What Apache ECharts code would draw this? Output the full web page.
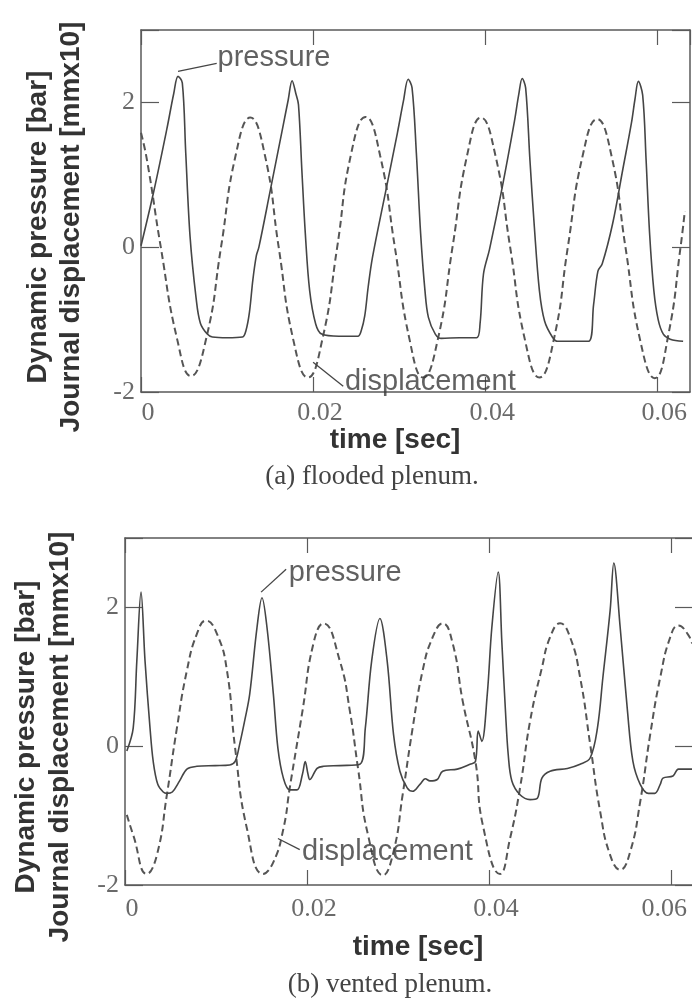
<!DOCTYPE html>
<html><head><meta charset="utf-8">
<script src="https://cdn.jsdelivr.net/npm/echarts@6/dist/echarts.min.js"></script>
<style>html,body{margin:0;padding:0;background:#fff}#c{width:692px;height:999px}</style>
</head><body><div id="c"></div>
<script>
// ---- tick labels ----
const xTickValues = [0, 0.02, 0.04, 0.06];
const xTickLabels = ['0', '0.02', '0.04', '0.06'];
const yTickValues = [-2, 0, 2];
const yTickLabels = ['-2', '0', '2'];

// ---- (a) flooded plenum ----
const topPressT = [0, 0.0015, 0.0030, 0.0038, 0.0043, 0.0048, 0.0052, 0.0057, 0.0064, 0.0069, 0.0077, 0.0083, 0.0100, 0.0118, 0.0122, 0.0126, 0.0130, 0.0134, 0.0137, 0.0150, 0.0165, 0.0171, 0.01756, 0.0180, 0.0183, 0.0187, 0.0191, 0.0196, 0.0203, 0.0210, 0.0230, 0.0252, 0.0256, 0.0260, 0.0264, 0.0269, 0.0285, 0.0298, 0.0305, 0.03105, 0.0315, 0.0320, 0.0325, 0.0330, 0.0334, 0.0342, 0.0349, 0.0370, 0.0390, 0.0394, 0.0398, 0.0405, 0.0420, 0.0434, 0.0439, 0.0443, 0.0447, 0.0452, 0.0457, 0.0463, 0.0469, 0.0478, 0.0484, 0.0500, 0.0520, 0.0526, 0.0531, 0.0536, 0.0548, 0.0560, 0.0570, 0.0574, 0.0578, 0.0583, 0.0587, 0.0591, 0.0596, 0.0601, 0.0607, 0.0615, 0.0630];
const topPressV = [0.02, 0.78, 1.63, 2.12, 2.36, 2.27, 1.3, 0.15, -0.7, -1.05, -1.2, -1.24, -1.25, -1.24, -1.15, -0.9, -0.45, -0.12, 0.0, 0.77, 1.67, 2.03, 2.3, 2.12, 1.97, 1.05, 0.18, -0.6, -1.06, -1.2, -1.23, -1.23, -1.15, -0.95, -0.55, -0.14, 0.81, 1.58, 2.02, 2.32, 2.2, 1.3, 0.18, -0.6, -0.97, -1.2, -1.26, -1.25, -1.25, -1.06, -0.37, -0.03, 0.84, 1.74, 2.11, 2.33, 2.2, 1.2, 0.3, -0.6, -1.02, -1.24, -1.3, -1.3, -1.3, -0.79, -0.33, -0.23, 0.32, 1.08, 1.72, 2.04, 2.29, 2.1, 1.2, 0.2, -0.6, -1.0, -1.2, -1.27, -1.3];
const topDispT = [0, 0.0007, 0.0023, 0.0042, 0.0058, 0.0076, 0.0093, 0.0110, 0.0127, 0.0144, 0.0160, 0.0177, 0.0194, 0.0211, 0.0228, 0.0244, 0.0261, 0.0278, 0.0295, 0.0312, 0.0328, 0.0345, 0.0362, 0.0379, 0.0395, 0.0412, 0.0429, 0.0446, 0.0463, 0.0480, 0.0496, 0.0513, 0.0530, 0.0547, 0.0563, 0.0580, 0.0597, 0.0613, 0.0627, 0.0632];
const topDispV = [1.58, 1.2, 0.0, -1.27, -1.78, -1.25, 0.0, 1.27, 1.79, 1.27, 0.0, -1.28, -1.8, -1.26, 0.0, 1.28, 1.8, 1.26, 0.0, -1.27, -1.8, -1.27, 0.0, 1.27, 1.79, 1.26, 0.0, -1.27, -1.8, -1.26, 0.0, 1.25, 1.77, 1.25, 0.0, -1.28, -1.81, -1.2, 0.0, 0.5];

// ---- (b) vented plenum ----
const botPressT = [0.0002, 0.0009, 0.0013, 0.00176, 0.0022, 0.00275, 0.0031, 0.0036, 0.0042, 0.0046, 0.0052, 0.0060, 0.0068, 0.0079, 0.0099, 0.0115, 0.0121, 0.0126, 0.0132, 0.0137, 0.0145, 0.01505, 0.0156, 0.0163, 0.0168, 0.0174, 0.0181, 0.0189, 0.0195, 0.0198, 0.0201, 0.0203, 0.0211, 0.0218, 0.0236, 0.0258, 0.0264, 0.0271, 0.0280, 0.0288, 0.0295, 0.0302, 0.0310, 0.0316, 0.0324, 0.0330, 0.0335, 0.0343, 0.0349, 0.0365, 0.0379, 0.0385, 0.0388, 0.0392, 0.0398, 0.0403, 0.0410, 0.0414, 0.0418, 0.0421, 0.0425, 0.0434, 0.0445, 0.0453, 0.0458, 0.0467, 0.0486, 0.0500, 0.0511, 0.0519, 0.0525, 0.0533, 0.0537, 0.0544, 0.0552, 0.0558, 0.0566, 0.0575, 0.0582, 0.0588, 0.0591, 0.0602, 0.0608, 0.0623];
const botPressV = [-0.07, 0.26, 1.23, 2.22, 1.23, 0.26, -0.22, -0.55, -0.66, -0.68, -0.66, -0.5, -0.33, -0.29, -0.28, -0.27, -0.22, 0.03, 0.4, 0.75, 1.71, 2.14, 1.71, 0.75, -0.03, -0.46, -0.63, -0.63, -0.4, -0.22, -0.4, -0.48, -0.32, -0.29, -0.28, -0.26, 0.26, 1.23, 1.84, 1.23, 0.17, -0.36, -0.6, -0.65, -0.55, -0.47, -0.5, -0.48, -0.36, -0.33, -0.26, -0.22, 0.22, 0.07, 0.75, 1.71, 2.51, 1.5, 0.5, -0.12, -0.5, -0.7, -0.77, -0.75, -0.46, -0.36, -0.32, -0.26, -0.17, 0.26, 0.99, 1.96, 2.64, 1.71, 0.51, -0.22, -0.55, -0.68, -0.68, -0.55, -0.46, -0.43, -0.33, -0.33];
const botDispT = [0.0002, 0.0009, 0.0024, 0.0035, 0.0046, 0.0057, 0.0068, 0.0079, 0.0089, 0.0101, 0.0112, 0.0121, 0.0134, 0.01517, 0.0163, 0.0174, 0.0181, 0.0195, 0.0207, 0.0218, 0.0236, 0.0247, 0.0256, 0.0267, 0.02835, 0.0295, 0.0305, 0.0316, 0.0327, 0.0338, 0.0349, 0.0360, 0.0371, 0.0385, 0.0393, 0.0412, 0.0423, 0.0434, 0.0445, 0.0458, 0.0467, 0.0478, 0.0489, 0.0500, 0.0511, 0.0522, 0.0533, 0.0544, 0.0555, 0.0566, 0.0577, 0.0588, 0.0599, 0.0608, 0.0618, 0.0623];
const botDispV = [-0.99, -1.28, -1.84, -1.57, -0.7, 0.26, 1.09, 1.62, 1.81, 1.62, 1.09, -0.03, -1.19, -1.84, -1.67, -1.19, -0.6, 0.51, 1.48, 1.77, 1.23, 0.51, -0.32, -1.28, -1.86, -1.52, -0.7, 0.26, 1.09, 1.57, 1.77, 1.48, 0.65, -0.22, -1.13, -1.84, -1.33, -0.6, 0.36, 1.13, 1.57, 1.77, 1.57, 0.99, 0.03, -0.94, -1.57, -1.78, -1.52, -0.8, 0.17, 0.99, 1.57, 1.74, 1.62, 1.48];

// ---- annotation anchors (data coordinates) ----
const annotations = [
  {grid: 0, text: 'pressure', at: [0.0089, 2.62], leader: [[0.0043, 2.43], [0.0088, 2.54]]},
  {grid: 0, text: 'displacement', at: [0.0237, -1.86], leader: [[0.0200, -1.59], [0.0235, -1.92]]},
  {grid: 1, text: 'pressure', at: [0.0180, 2.49], leader: [[0.01495, 2.22], [0.0177, 2.55]]},
  {grid: 1, text: 'displacement', at: [0.01945, -1.52], leader: [[0.0168, -1.33], [0.0192, -1.49]]}
];

const zip = (t, v) => t.map((x, i) => [x, v[i]]);
const AX = '#5a5a5a';
const INK = '#454545';
const SERIF = '"Liberation Serif", "DejaVu Serif", serif';
const SANS = '"Liberation Sans", Arial, sans-serif';

function xIdx(v) { return xTickValues.findIndex(t => Math.abs(t - v) < 1e-9); }
function yLab(v) { const i = yTickValues.findIndex(t => Math.abs(t - v) < 1e-9); return i < 0 ? '' : yTickLabels[i]; }
function xLabRich(v) {
  const i = xIdx(v);
  if (i < 0) return '';
  return (i === xTickValues.length - 1 ? '{e|' : '{n|') + xTickLabels[i] + '}';
}
const labStyle = {color: '#6a6a6a', fontFamily: SERIF, fontSize: 26};

function xAxes(gi, max, margin, lastPadRight) {
  return [{
    type: 'value', gridIndex: gi, position: 'bottom', min: 0, max: max, interval: 0.02,
    axisLine: {show: true, onZero: false, lineStyle: {color: AX, width: 1.5}},
    axisTick: {show: true, inside: true, length: 15, lineStyle: {color: AX, width: 1.2}},
    axisLabel: {show: true, formatter: xLabRich, margin: margin, showMaxLabel: false,
      rich: {
        n: Object.assign({padding: [0, 0, 0, 14]}, labStyle),
        e: Object.assign({padding: [0, lastPadRight, 0, lastPadRight < 0 ? 0 : (lastPadRight === 0 ? 14 : 0)]}, labStyle)
      }},
    splitLine: {show: false}
  }, {
    type: 'value', gridIndex: gi, position: 'top', min: 0, max: max, interval: 0.02,
    axisLine: {show: true, onZero: false, lineStyle: {color: AX, width: 1.5}},
    axisTick: {show: true, inside: true, length: 15, lineStyle: {color: AX, width: 1.2}},
    axisLabel: {show: false}, splitLine: {show: false}
  }];
}
function yAxes(gi) {
  return [{
    type: 'value', gridIndex: gi, position: 'left', min: -2, max: 3, interval: 2,
    axisLine: {show: true, onZero: false, lineStyle: {color: AX, width: 1.5}},
    axisTick: {show: true, inside: true, length: 18, lineStyle: {color: AX, width: 1.2}},
    axisLabel: Object.assign({show: true, formatter: yLab, margin: 6}, labStyle),
    splitLine: {show: false}
  }, {
    type: 'value', gridIndex: gi, position: 'right', min: -2, max: 3, interval: 2,
    axisLine: {show: true, onZero: false, lineStyle: {color: AX, width: 1.5}},
    axisTick: {show: true, inside: true, length: 18, lineStyle: {color: AX, width: 1.2}},
    axisLabel: {show: false}, splitLine: {show: false}
  }];
}

const series = [];
function addPlot(gi, pT, pV, dT, dV) {
  const xi = gi * 2, yi = gi * 2;
  series.push({type: 'line', xAxisIndex: xi, yAxisIndex: yi, data: zip(dT, dV), smooth: 0.5, symbol: 'none',
    lineStyle: {color: '#555', width: 2, type: [7, 4]}, z: 2});
  series.push({type: 'line', xAxisIndex: xi, yAxisIndex: yi, data: zip(pT, pV), smooth: 0.35, symbol: 'none',
    lineStyle: {color: INK, width: 1.6}, z: 3});
}
addPlot(0, topPressT, topPressV, topDispT, topDispV);
addPlot(1, botPressT, botPressV, botDispT, botDispV);

annotations.forEach(a => {
  const xi = a.grid * 2, yi = a.grid * 2;
  series.push({type: 'line', xAxisIndex: xi, yAxisIndex: yi, data: a.leader, symbol: 'none', smooth: false,
    lineStyle: {color: INK, width: 1.3}, z: 4});
  series.push({type: 'scatter', xAxisIndex: xi, yAxisIndex: yi, data: [a.at], symbolSize: 0, z: 5,
    label: {show: true, position: [0, 0], align: 'left', verticalAlign: 'middle', formatter: a.text,
      color: '#3a3a3a', fontFamily: SANS, fontSize: 29}});
});

const chart = echarts.init(document.getElementById('c'), null, {renderer: 'canvas'});
chart.setOption({
  animation: false,
  backgroundColor: '#fff',
  grid: [
    {left: 141, top: 30, width: 549, height: 362, containLabel: false, outerBoundsMode: 'none'},
    {left: 125, top: 538, width: 568, height: 347, containLabel: false, outerBoundsMode: 'none'}
  ],
  xAxis: [...xAxes(0, 0.0638, 8, 0), ...xAxes(1, 0.0624, 11, 14)],
  yAxis: [...yAxes(0), ...yAxes(1)],
  series: series,
  graphic: [
    {type: 'text', x: 55, y: 227, rotation: Math.PI / 2,
      style: {text: 'Dynamic pressure [bar]\nJournal displacement [mmx10]', font: 'bold 28px ' + SANS, fill: '#333',
        textAlign: 'center', align: 'center', textVerticalAlign: 'middle', verticalAlign: 'middle', lineHeight: 33}},
    {type: 'text', x: 43, y: 737, rotation: Math.PI / 2,
      style: {text: 'Dynamic pressure [bar]\nJournal displacement [mmx10]', font: 'bold 28px ' + SANS, fill: '#333',
        textAlign: 'center', align: 'center', textVerticalAlign: 'middle', verticalAlign: 'middle', lineHeight: 34}},
    {type: 'text', x: 395, y: 440,
      style: {text: 'time [sec]', font: 'bold 28px ' + SANS, fill: '#333', textAlign: 'center', align: 'center', textVerticalAlign: 'middle', verticalAlign: 'middle'}},
    {type: 'text', x: 418, y: 947,
      style: {text: 'time [sec]', font: 'bold 28px ' + SANS, fill: '#333', textAlign: 'center', align: 'center', textVerticalAlign: 'middle', verticalAlign: 'middle'}},
    {type: 'text', x: 372, y: 477,
      style: {text: '(a) flooded plenum.', font: '27px ' + SERIF, fill: '#444', textAlign: 'center', align: 'center', textVerticalAlign: 'middle', verticalAlign: 'middle'}},
    {type: 'text', x: 390, y: 985,
      style: {text: '(b) vented plenum.', font: '27px ' + SERIF, fill: '#444', textAlign: 'center', align: 'center', textVerticalAlign: 'middle', verticalAlign: 'middle'}}
  ]
});
</script>
</body></html>
